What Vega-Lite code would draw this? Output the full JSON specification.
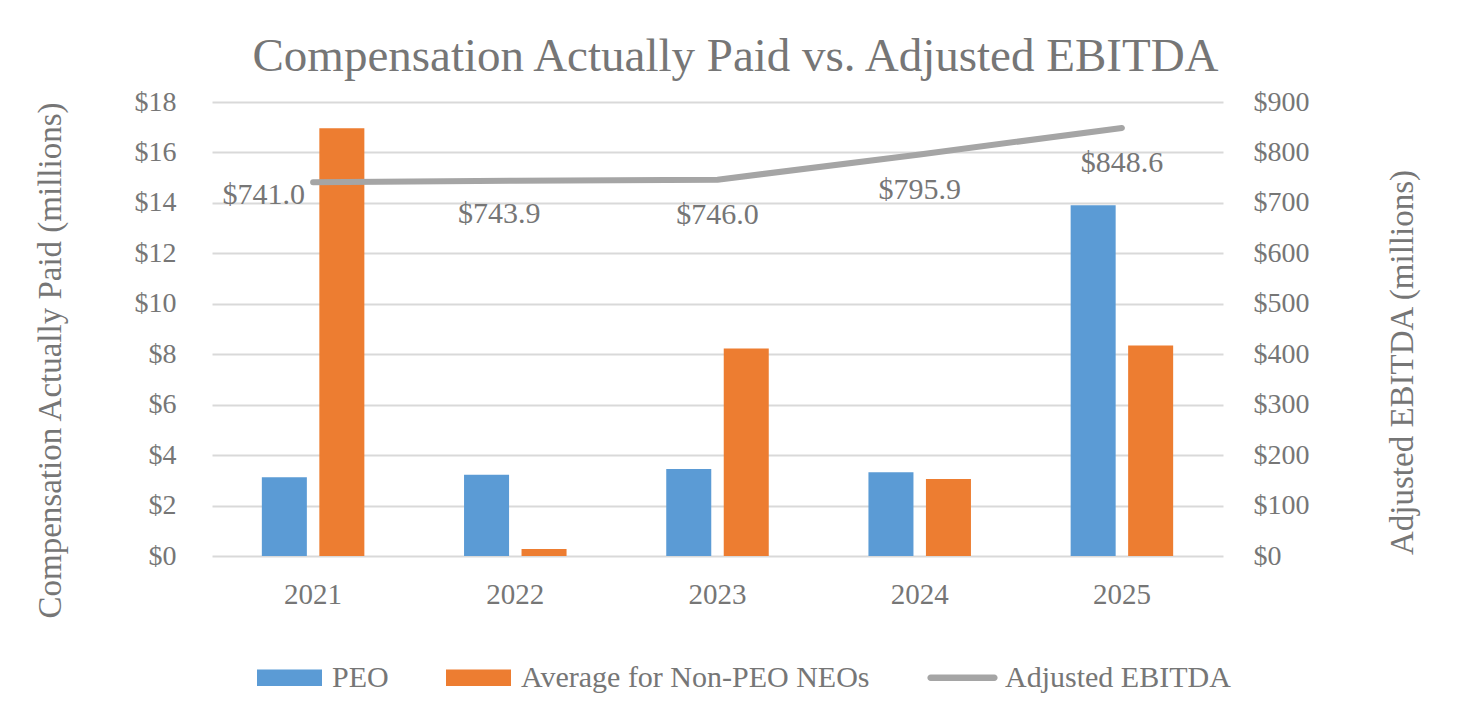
{
  "$schema": "https://vega.github.io/schema/vega-lite/v6.json",
  "width": 1011,
  "height": 454,
  "autosize": {"type": "none"},
  "padding": {"left": 212, "top": 102, "right": 249, "bottom": 171},
  "background": "white",
  "title": {
    "text": "Compensation Actually Paid vs. Adjusted EBITDA",
    "font": "Liberation Serif",
    "fontSize": 47,
    "fontWeight": "normal",
    "color": "#767676",
    "anchor": "middle",
    "dx": 18,
    "offset": 7
  },
  "datasets": {
    "comp": [
      {"year": "2021", "series": "PEO", "value": 3.12},
      {"year": "2021", "series": "Average for Non-PEO NEOs", "value": 16.96},
      {"year": "2022", "series": "PEO", "value": 3.22},
      {"year": "2022", "series": "Average for Non-PEO NEOs", "value": 0.28},
      {"year": "2023", "series": "PEO", "value": 3.45},
      {"year": "2023", "series": "Average for Non-PEO NEOs", "value": 8.23},
      {"year": "2024", "series": "PEO", "value": 3.32},
      {"year": "2024", "series": "Average for Non-PEO NEOs", "value": 3.05},
      {"year": "2025", "series": "PEO", "value": 13.91},
      {"year": "2025", "series": "Average for Non-PEO NEOs", "value": 8.35}
    ],
    "ebitda": [
      {"year": "2021", "ebitda": 741.0},
      {"year": "2022", "ebitda": 743.9},
      {"year": "2023", "ebitda": 746.0},
      {"year": "2024", "ebitda": 795.9},
      {"year": "2025", "ebitda": 848.6}
    ]
  },
  "layer": [
    {
      "data": {"name": "comp"},
      "mark": {"type": "bar"},
      "encoding": {
        "x": {
          "field": "year",
          "type": "nominal",
          "scale": {"paddingInner": 0.493, "paddingOuter": 0.2465},
          "axis": {
            "title": null,
            "labelAngle": 0,
            "labelFontSize": 29,
            "labelPadding": 24,
            "grid": false
          }
        },
        "xOffset": {
          "field": "series",
          "type": "nominal",
          "scale": {"domain": ["PEO", "Average for Non-PEO NEOs"], "paddingInner": 0.217, "paddingOuter": 0}
        },
        "y": {
          "field": "value",
          "type": "quantitative",
          "scale": {"domain": [0, 18], "nice": false},
          "axis": {
            "orient": "left",
            "values": [0, 2, 4, 6, 8, 10, 12, 14, 16, 18],
            "format": "$.0f",
            "labelFontSize": 28,
            "labelPadding": 36,
            "grid": true,
            "gridColor": "#D9D9D9",
            "gridWidth": 2,
            "title": "Compensation Actually Paid (millions)",
            "titleFontSize": 33,
            "titleAngle": -90,
            "titleAlign": "center",
            "titleBaseline": "middle",
            "titleX": -162,
            "titleY": 258
          }
        },
        "color": {
          "field": "series",
          "type": "nominal",
          "scale": {
            "domain": ["PEO", "Average for Non-PEO NEOs", "Adjusted EBITDA"],
            "range": ["#5B9BD5", "#ED7D31", "#A5A5A5"]
          },
          "legend": {
            "orient": "none",
            "legendX": 45,
            "legendY": 543,
            "direction": "horizontal",
            "columns": 3,
            "title": null,
            "labelFont": "Liberation Serif",
            "labelFontSize": 30,
            "labelColor": "#767676",
            "labelLimit": 600,
            "labelOffset": 10,
            "symbolSize": 4225,
            "symbolStrokeWidth": 0,
            "columnPadding": 57,
            "encode": {
              "symbols": {
                "update": {
                  "shape": {
                    "signal": "datum.value === 'Adjusted EBITDA' ? 'M-0.98,-0.1 L0.98,-0.1 A0.1,0.1 0 0 1 0.98,0.1 L-0.98,0.1 A0.1,0.1 0 0 1 -0.98,-0.1 Z' : 'M-1,-0.256 L1,-0.256 L1,0.256 L-1,0.256 Z'"
                  }
                }
              }
            }
          }
        }
      }
    },
    {
      "data": {"name": "ebitda"},
      "encoding": {
        "x": {"field": "year", "type": "nominal"},
        "y": {
          "field": "ebitda",
          "type": "quantitative",
          "scale": {"domain": [0, 900], "nice": false},
          "axis": {
            "orient": "right",
            "values": [0, 100, 200, 300, 400, 500, 600, 700, 800, 900],
            "format": "$.0f",
            "labelFontSize": 28,
            "labelPadding": 30,
            "grid": false,
            "title": "Adjusted EBITDA (millions)",
            "titleFontSize": 33,
            "titleAngle": -90,
            "titleAlign": "center",
            "titleBaseline": "middle",
            "titleX": 179,
            "titleY": 260
          }
        }
      },
      "layer": [
        {
          "mark": {"type": "line", "color": "#A5A5A5", "strokeWidth": 6, "strokeCap": "round", "strokeJoin": "round"}
        },
        {
          "transform": [{"filter": "datum.year === '2021'"}],
          "mark": {"type": "text", "font": "Liberation Serif", "fontSize": 30, "color": "#767676", "align": "right", "baseline": "middle", "dx": -8, "dy": 13},
          "encoding": {"text": {"field": "ebitda", "type": "quantitative", "format": "$.1f"}}
        },
        {
          "transform": [{"filter": "datum.year === '2022'"}],
          "mark": {"type": "text", "font": "Liberation Serif", "fontSize": 30, "color": "#767676", "align": "center", "baseline": "middle", "dx": -16, "dy": 33},
          "encoding": {"text": {"field": "ebitda", "type": "quantitative", "format": "$.1f"}}
        },
        {
          "transform": [{"filter": "datum.year !== '2021' && datum.year !== '2022'"}],
          "mark": {"type": "text", "font": "Liberation Serif", "fontSize": 30, "color": "#767676", "align": "center", "baseline": "middle", "dy": 35},
          "encoding": {"text": {"field": "ebitda", "type": "quantitative", "format": "$.1f"}}
        }
      ]
    }
  ],
  "resolve": {"scale": {"y": "independent"}},
  "config": {
    "view": {"stroke": null},
    "axis": {
      "labelFont": "Liberation Serif",
      "titleFont": "Liberation Serif",
      "labelColor": "#767676",
      "titleColor": "#767676",
      "titleFontWeight": "normal",
      "domain": false,
      "ticks": false
    }
  }
}
